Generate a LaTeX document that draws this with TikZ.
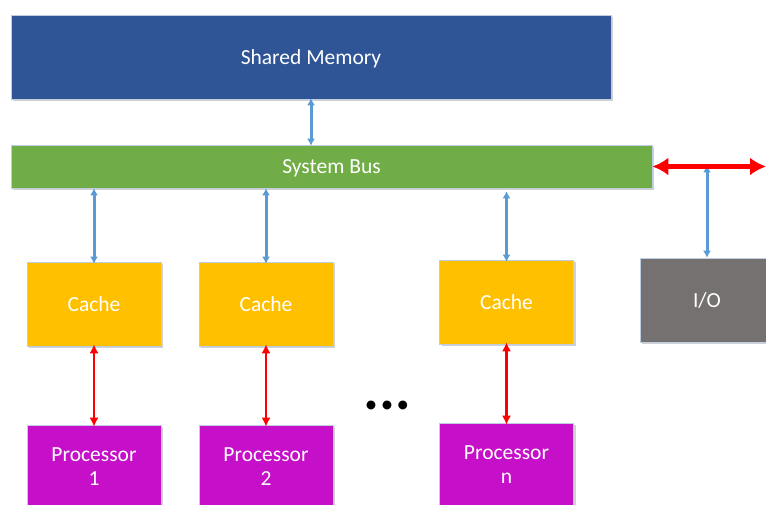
\documentclass[tikz,border=0pt]{standalone}
\usepackage{fontspec}
\setmainfont{Carlito}
\usetikzlibrary{arrows.meta,shadows}
\definecolor{memblue}{RGB}{47,85,151}
\definecolor{busgreen}{RGB}{112,173,71}
\definecolor{cacheyellow}{RGB}{255,192,0}
\definecolor{iogrey}{RGB}{118,113,113}
\definecolor{procpink}{RGB}{197,15,200}
\definecolor{linkblue}{RGB}{91,155,213}
\definecolor{edgegrey}{RGB}{190,205,225}

\begin{document}
\begin{tikzpicture}[x=1pt,y=-1pt]
	\tikzset{
		blk/.style={draw=edgegrey,line width=0.6pt,text=white,align=center,inner sep=0pt,
			font=\fontsize{21.5}{24}\selectfont,
			drop shadow={shadow xshift=2pt,shadow yshift=-2pt,opacity=0.3,fill=black!60}},
		unit/.style={blk,minimum width=134pt,minimum height=84pt},
		bluelink/.style={linkblue,line width=3pt,{Latex[length=7pt,width=8pt]}-{Latex[length=7pt,width=8pt]}},
		redlink/.style={red,line width=2.5pt,{Latex[length=9pt,width=9pt]}-{Latex[length=9pt,width=9pt]}},
		bigred/.style={red,line width=5pt,{Latex[length=16pt,width=18pt]}-{Latex[length=16pt,width=18pt]}}
	}
	\useasboundingbox (0,0) rectangle (766,505);
	\path
	(311,57) node[blk,fill=memblue,minimum width=600pt,minimum height=84pt,text depth=0pt](mem){Shared Memory}
	(331.5,166.5) node[blk,fill=busgreen,minimum width=641pt,minimum height=43pt,text depth=0pt](bus){System Bus}
	(94,304) node[unit,fill=cacheyellow](c1){Cache}
	(266,304) node[unit,fill=cacheyellow](c2){Cache}
	(506.5,302) node[unit,fill=cacheyellow](cn){Cache}
	(707,300) node[unit,fill=iogrey](io){I/O}
	(94,467) node[unit,fill=procpink](p1){Processor\\1}
	(266,467) node[unit,fill=procpink](p2){Processor\\2}
	(506.5,465) node[unit,fill=procpink](pn){Processor\\n}
	(387,407) node[font=\fontsize{25}{25}\selectfont](dots){•\kern3.5pt•\kern3.5pt•}
	;
	\coordinate (ioend) at (766,166.5);
	\draw[bluelink] ([yshift=1pt]mem.south) -- ([yshift=-1pt]mem.south |- bus.north);
	\draw[bluelink] (c1.north |- bus.south) -- ([yshift=-2pt]c1.north);
	\draw[bluelink] (c2.north |- bus.south) -- ([yshift=-2pt]c2.north);
	\draw[bluelink] ([yshift=-3pt]cn.north |- bus.south) -- ([yshift=-2pt]cn.north);
	\draw[bluelink] ([yshift=1pt]io.north |- bus.east) -- (io.north);
	\draw[bigred] (bus.east) -- (ioend);
	\draw[redlink] ([yshift=2pt]c1.south) -- ([yshift=-2pt]p1.north);
	\draw[redlink] ([yshift=2pt]c2.south) -- ([yshift=-2pt]p2.north);
	\draw[redlink] ([yshift=2pt]cn.south) -- ([yshift=-2pt]pn.north);
\end{tikzpicture}
\end{document}
